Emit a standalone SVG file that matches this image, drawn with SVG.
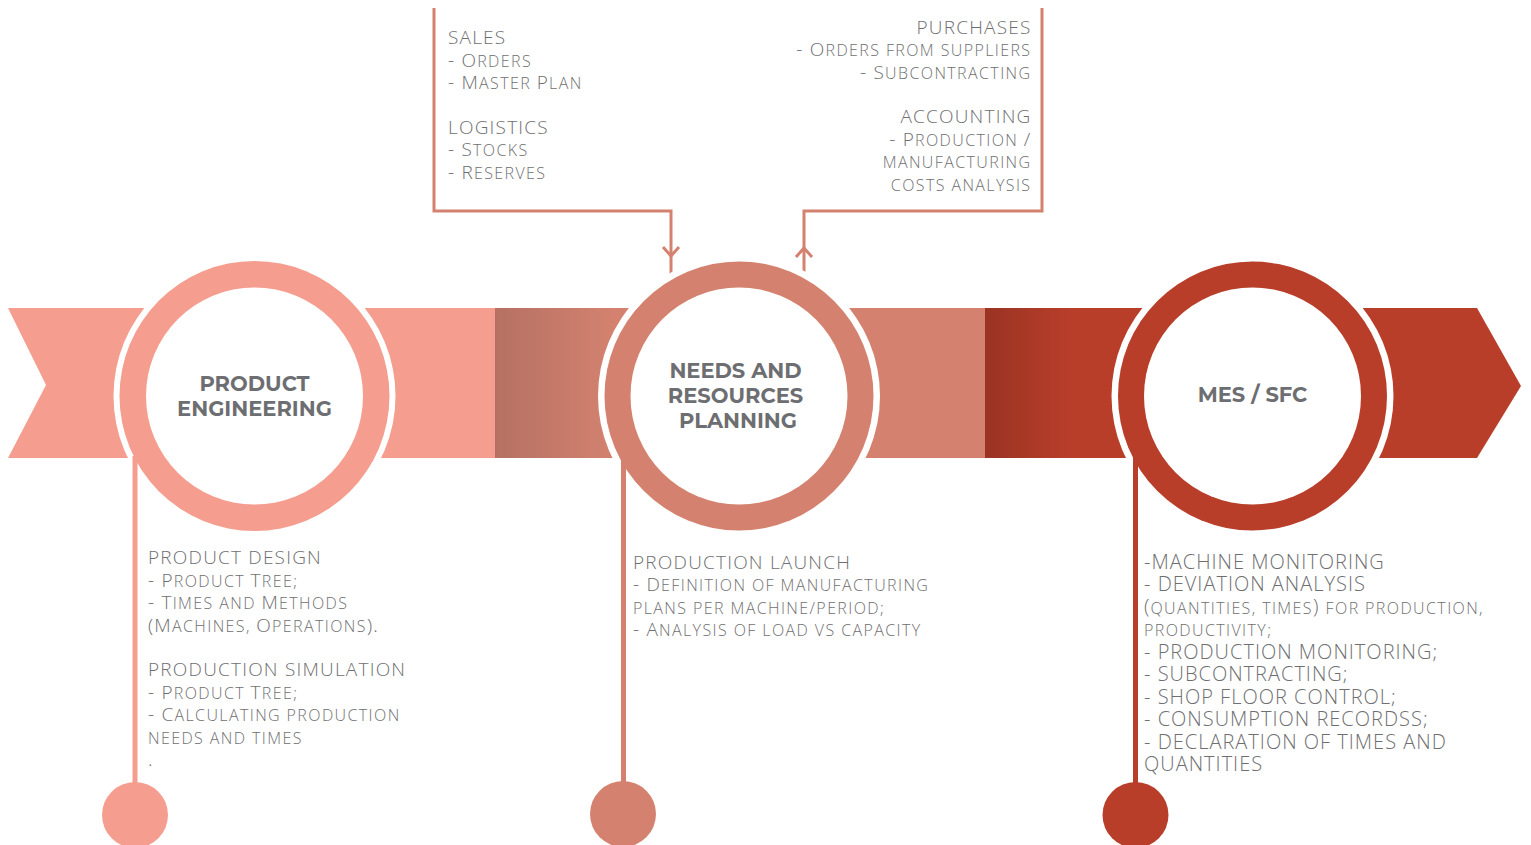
<svg xmlns="http://www.w3.org/2000/svg" width="1531" height="845" viewBox="0 0 1531 845">
<defs>
<linearGradient id="g1" x1="0" x2="1" y1="0" y2="0"><stop offset="0" stop-color="#B57163"/><stop offset="1" stop-color="#D4826F"/></linearGradient>
<linearGradient id="g2" x1="0" x2="1" y1="0" y2="0"><stop offset="0" stop-color="#9A3323"/><stop offset="1" stop-color="#B83E2A"/></linearGradient>
<style>
.t{font-family:"Open Sans","Liberation Sans",sans-serif;font-weight:300;fill:#6f6f71;font-size:19px;letter-spacing:1.2px}
.r{font-size:20px;letter-spacing:1px}
.s{font-size:16px;letter-spacing:1.4px}
.h{font-family:Montserrat,"Open Sans","Liberation Sans",sans-serif;font-weight:700;fill:#6d6e71;font-size:21px;text-anchor:middle}
.c{fill:none;stroke:#D4826F;stroke-width:3}
</style>
</defs>
<rect width="1531" height="845" fill="#fff"/>
<g id="band">
<polygon points="8,308 496,308 496,458 8,458 46,385" fill="#F59D8F"/>
<rect x="495" y="308" width="120" height="150" fill="url(#g1)"/>
<rect x="614" y="308" width="372" height="150" fill="#D4826F"/>
<rect x="985" y="308" width="85" height="150" fill="url(#g2)"/>
<polygon points="1069,308 1477,308 1521,386 1477,458 1069,458" fill="#B83E2A"/>
</g>
<g id="connectors">
<path class="c" d="M434,8 V211 H671 V276"/>
<polyline class="c" points="663,247 671,256 679,247"/>
<path class="c" d="M804,276 V211 H1042 V8"/>
<polyline class="c" points="796,257 804,248 812,257"/>
</g>
<g id="node-product-engineering">
<circle cx="254.5" cy="396" r="141" fill="#fff"/>
<line x1="135" y1="456" x2="135" y2="800" stroke="#F59D8F" stroke-width="5"/>
<circle cx="254.5" cy="396" r="135" fill="#F59D8F"/>
<circle cx="254.5" cy="396" r="108.5" fill="#fff"/>
<circle cx="135" cy="815" r="33" fill="#F59D8F"/>
<text class="h" x="254.5" y="391">PRODUCT</text>
<text class="h" x="254.5" y="416">ENGINEERING</text>
</g>
<g id="node-needs-planning">
<circle cx="739" cy="396" r="141" fill="#fff"/>
<line x1="623.5" y1="456" x2="623.5" y2="800" stroke="#D4826F" stroke-width="5"/>
<circle cx="739" cy="396" r="134.5" fill="#D4826F"/>
<circle cx="739" cy="396" r="108.5" fill="#fff"/>
<circle cx="623" cy="814" r="33" fill="#D4826F"/>
<text class="h" x="735.5" y="378">NEEDS AND</text>
<text class="h" x="735.5" y="403">RESOURCES</text>
<text class="h" x="738" y="428">PLANNING</text>
</g>
<g id="node-mes-sfc">
<circle cx="1252.5" cy="396" r="141" fill="#fff"/>
<line x1="1135.5" y1="456" x2="1135.5" y2="800" stroke="#B83E2A" stroke-width="5"/>
<circle cx="1252.5" cy="396" r="134.5" fill="#B83E2A"/>
<circle cx="1252.5" cy="396" r="108.5" fill="#fff"/>
<circle cx="1135.5" cy="815" r="33" fill="#B83E2A"/>
<text class="h" x="1252.5" y="402">MES / SFC</text>
</g>
<g id="text-sales-logistics" class="t">
<text x="448" y="44">SALES</text>
<text x="448" y="67">- O<tspan class="s">RDERS</tspan></text>
<text x="448" y="89">- M<tspan class="s">ASTER </tspan>P<tspan class="s">LAN</tspan></text>
<text x="448" y="134">LOGISTICS</text>
<text x="448" y="156">- S<tspan class="s">TOCKS</tspan></text>
<text x="448" y="179">- R<tspan class="s">ESERVES</tspan></text>
</g>
<g id="text-purchases-accounting" class="t" text-anchor="end">
<text x="1031.5" y="34">PURCHASES</text>
<text x="1031.5" y="56">- O<tspan class="s">RDERS FROM SUPPLIERS</tspan></text>
<text x="1031.5" y="79">- S<tspan class="s">UBCONTRACTING</tspan></text>
<text x="1031.5" y="123">ACCOUNTING</text>
<text x="1031.5" y="146">- P<tspan class="s">RODUCTION </tspan>/</text>
<text x="1031.5" y="168" class="s">MANUFACTURING</text>
<text x="1031.5" y="191" class="s">COSTS ANALYSIS</text>
</g>
<g id="text-product-engineering" class="t">
<text x="148" y="564">PRODUCT DESIGN</text>
<text x="148" y="586.5">- P<tspan class="s">RODUCT </tspan>T<tspan class="s">REE;</tspan></text>
<text x="148" y="609">- T<tspan class="s">IMES AND </tspan>M<tspan class="s">ETHODS</tspan></text>
<text x="148" y="631.5">(M<tspan class="s">ACHINES, </tspan>O<tspan class="s">PERATIONS</tspan>).</text>
<text x="148" y="676">PRODUCTION SIMULATION</text>
<text x="148" y="698.5">- P<tspan class="s">RODUCT </tspan>T<tspan class="s">REE;</tspan></text>
<text x="148" y="721">- C<tspan class="s">ALCULATING PRODUCTION</tspan></text>
<text x="148" y="744" class="s">NEEDS AND TIMES</text>
<text x="148" y="766">.</text>
</g>
<g id="text-needs-planning" class="t">
<text x="633" y="569">PRODUCTION LAUNCH</text>
<text x="633" y="591">- D<tspan class="s">EFINITION OF MANUFACTURING</tspan></text>
<text x="633" y="614" class="s">PLANS PER MACHINE/PERIOD;</text>
<text x="633" y="636">- A<tspan class="s">NALYSIS OF LOAD VS CAPACITY</tspan></text>
</g>
<g id="text-mes-sfc" class="t r">
<text x="1144" y="569">-MACHINE MONITORING</text>
<text x="1144" y="591">- DEVIATION ANALYSIS</text>
<text x="1144" y="614">(<tspan class="s">QUANTITIES, TIMES</tspan>) <tspan class="s">FOR PRODUCTION,</tspan></text>
<text x="1144" y="636" class="s">PRODUCTIVITY;</text>
<text x="1144" y="659">- PRODUCTION MONITORING;</text>
<text x="1144" y="681">- SUBCONTRACTING;</text>
<text x="1144" y="704">- SHOP FLOOR CONTROL;</text>
<text x="1144" y="726">- CONSUMPTION RECORDSS;</text>
<text x="1144" y="749">- DECLARATION OF TIMES AND</text>
<text x="1144" y="771">QUANTITIES</text>
</g>
</svg>
